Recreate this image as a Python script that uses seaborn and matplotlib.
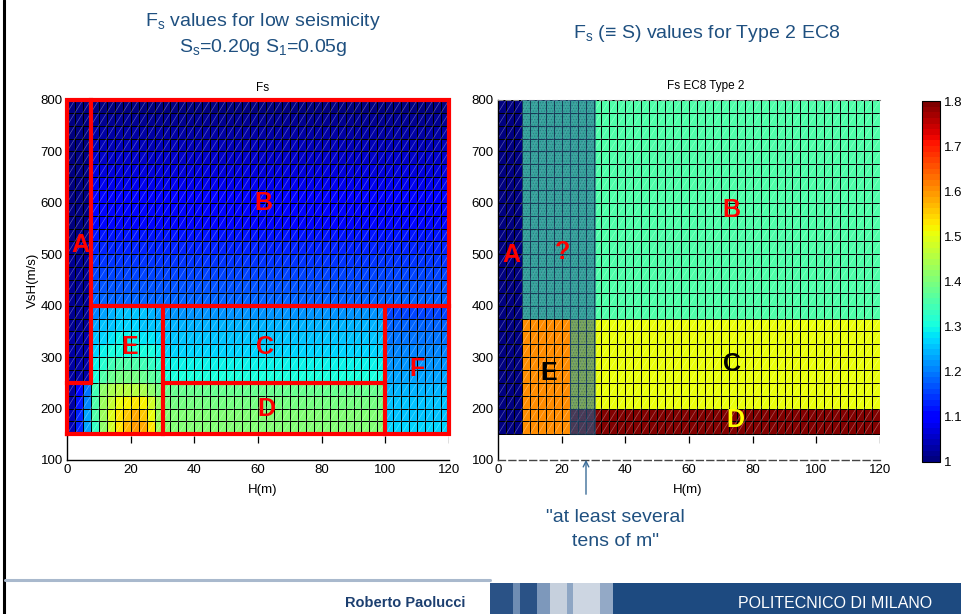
import numpy as np
import pandas as pd
import matplotlib
matplotlib.use("Agg")
import matplotlib.pyplot as plt
import seaborn as sns
from matplotlib.patches import Rectangle
from matplotlib.collections import LineCollection
from matplotlib.lines import Line2D

# ---------------- data ----------------
# cell grid: H (m) columns of 2.5 m from 0 to 120, VsH rows of 25 m/s from 150 to 800
H_cells = np.arange(0, 120, 2.5)
V_cells = np.arange(150, 800, 25)

# Left panel: Fs (low seismicity) read by zone, rows listed bottom -> top
fs_A = [1.03, 1.03, 1.03, 1.03, 1.02, 1.02, 1.02, 1.02, 1.02, 1.02, 1.02,
        1.01, 1.01, 1.01, 1.01, 1.01, 1.01, 1.00, 1.00, 1.00, 1.00, 1.00]      # H 0-7.5, Vs 250-800
fs_B = [1.18, 1.17, 1.16, 1.15, 1.13, 1.12, 1.11, 1.10, 1.09, 1.08, 1.07,
        1.06, 1.04, 1.03, 1.02, 1.01]                                          # H 7.5-120, Vs 400-800
fs_low_left = [[1.04, 1.13, 1.23],
               [1.04, 1.13, 1.23],
               [1.03, 1.12, 1.21],
               [1.03, 1.11, 1.19]]                                             # H 0-7.5, Vs 150-250
fs_E = [[1.33, 1.42, 1.48, 1.53, 1.57, 1.59, 1.58, 1.53, 1.43],
        [1.35, 1.43, 1.49, 1.53, 1.56, 1.58, 1.56, 1.50, 1.43],
        [1.35, 1.43, 1.47, 1.50, 1.52, 1.53, 1.52, 1.48, 1.43],
        [1.34, 1.42, 1.44, 1.46, 1.46, 1.46, 1.44, 1.42, 1.40],
        [1.30, 1.36, 1.38, 1.39, 1.39, 1.39, 1.38, 1.37, 1.36],
        [1.29, 1.32, 1.34, 1.35, 1.35, 1.35, 1.34, 1.33, 1.32],
        [1.27, 1.29, 1.30, 1.31, 1.31, 1.31, 1.30, 1.30, 1.29],
        [1.25, 1.27, 1.28, 1.29, 1.29, 1.29, 1.28, 1.28, 1.27],
        [1.23, 1.25, 1.26, 1.27, 1.27, 1.27, 1.26, 1.26, 1.25],
        [1.21, 1.23, 1.24, 1.25, 1.26, 1.26, 1.25, 1.24, 1.23]]                # H 7.5-30, Vs 150-400
fs_C = [1.30, 1.29, 1.27, 1.26, 1.24, 1.22]                                    # H 30-100, Vs 250-400
fs_D = [1.41, 1.41, 1.40, 1.38]                                                # H 30-100, Vs 150-250
fs_F = [1.27, 1.26, 1.25, 1.24, 1.23, 1.22, 1.21, 1.20, 1.18, 1.16]            # H 100-120, Vs 150-400

# Right panel: EC8 Type 2 soil factor S per class and its (H, Vs) domain
ec8_class = ["A", "E", "B", "C", "D"]
ec8_S = [1.00, 1.60, 1.35, 1.50, 1.80]
ec8_H_min = [0.0, 7.5, 7.5, 22.5, 22.5]
ec8_H_max = [7.5, 22.5, 120.0, 120.0, 120.0]
ec8_V_min = [150, 150, 375, 200, 150]
ec8_V_max = [800, 375, 800, 375, 200]

x_ticks = [0, 20, 40, 60, 80, 100, 120]
y_ticks = [100, 200, 300, 400, 500, 600, 700, 800]
cbar_ticks = [1.0, 1.1, 1.2, 1.3, 1.4, 1.5, 1.6, 1.7, 1.8]
cbar_labels = ["1", "1.1", "1.2", "1.3", "1.4", "1.5", "1.6", "1.7", "1.8"]


def hx(h):
    return np.asarray(h, dtype=float) / 2.5


def vy(v):
    return (np.asarray(v, dtype=float) - 150.0) / 25.0


# build left grid
fs = np.zeros((len(V_cells), len(H_cells)))
ci = lambda h: int(round(float(hx(h))))
ri = lambda v: int(round(float(vy(v))))
fs[ri(250):, ci(0):ci(7.5)] = np.array(fs_A)[:, None]
fs[ri(400):, ci(7.5):] = np.array(fs_B)[:, None]
fs[ri(150):ri(250), ci(0):ci(7.5)] = np.array(fs_low_left)
fs[ri(150):ri(400), ci(7.5):ci(30)] = np.array(fs_E)
fs[ri(250):ri(400), ci(30):ci(100)] = np.array(fs_C)[:, None]
fs[ri(150):ri(250), ci(30):ci(100)] = np.array(fs_D)[:, None]
fs[ri(150):ri(400), ci(100):] = np.array(fs_F)[:, None]

# build right grid
Hc = H_cells + 1.25
Vc = V_cells + 12.5
ec8 = np.zeros_like(fs)
for s, h0, h1, v0, v1 in zip(ec8_S, ec8_H_min, ec8_H_max, ec8_V_min, ec8_V_max):
    mask = ((Hc[None, :] > h0) & (Hc[None, :] < h1) & (Vc[:, None] > v0) & (Vc[:, None] < v1))
    ec8[mask] = s

df_left = pd.DataFrame(fs, index=V_cells, columns=H_cells)
df_right = pd.DataFrame(ec8, index=V_cells, columns=H_cells)

# ---------------- style ----------------
sns.set_theme(style="white")
plt.rcParams["font.family"] = ["Liberation Sans", "DejaVu Sans"]
plt.rcParams["mathtext.fontset"] = "custom"
plt.rcParams["mathtext.rm"] = "Liberation Sans"
plt.rcParams["mathtext.it"] = "Liberation Sans"
plt.rcParams["hatch.linewidth"] = 0.6

W, HH = 961, 614
fx = lambda p: p / W
fy = lambda p: 1 - p / HH

fig = plt.figure(figsize=(9.61, 6.14), dpi=100)
fig.patch.set_facecolor("white")
ax1 = fig.add_axes([fx(67), fy(460), fx(449) - fx(67), fy(100) - fy(460)])
ax2 = fig.add_axes([fx(498), fy(460), fx(880) - fx(498), fy(100) - fy(460)])
cax = fig.add_axes([fx(922), fy(462), fx(940) - fx(922), fy(101) - fy(462)])

cmap = matplotlib.colormaps["jet"].resampled(64)

sns.heatmap(df_left, ax=ax1, cmap=cmap, vmin=1.0, vmax=1.8, linewidths=0.6,
            linecolor="black", cbar=False, xticklabels=False, yticklabels=False)
sns.heatmap(df_right, ax=ax2, cmap=cmap, vmin=1.0, vmax=1.8, linewidths=0.6,
            linecolor="black", cbar=True, cbar_ax=cax, xticklabels=False, yticklabels=False)

diag = [[(i, j), (i + 1, j + 1)] for i in range(len(H_cells)) for j in range(len(V_cells))]

for ax in (ax1, ax2):
    ax.set_xlim(0, hx(120))
    ax.set_ylim(vy(100), vy(800))
    ax.set_xticks(hx(x_ticks))
    ax.set_xticklabels([str(t) for t in x_ticks])
    ax.set_yticks(vy(y_ticks))
    ax.set_yticklabels([str(t) for t in y_ticks])
    ax.tick_params(length=0, labelsize=9.5, pad=3, colors="black")
    ax.set_xlabel("")
    ax.set_ylabel("")
    ax.add_collection(LineCollection(diag, colors=[(1, 1, 1, 0.35)], linewidths=0.5))
    ax.vlines(hx(x_ticks[1:]), vy(133), vy(146), color="black", lw=0.9)
    for s in ax.spines.values():
        s.set_visible(False)
    ax.spines["left"].set_visible(True)
    ax.spines["bottom"].set_visible(True)
    ax.spines["left"].set_color("black")
    ax.spines["bottom"].set_color("black")
    ax.spines["left"].set_linewidth(1.0)
    ax.spines["bottom"].set_linewidth(1.0)

ax2.spines["bottom"].set_linestyle((0, (5, 2.5)))
ax2.spines["bottom"].set_color("#444444")
ax2.spines["top"].set_visible(True)
ax2.spines["top"].set_linestyle((0, (4, 3)))
ax2.spines["top"].set_color("#888888")
ax2.spines["top"].set_linewidth(0.8)

# left: red zone outlines
red_lines = [
    [(0, 150), (0, 800), (120, 800), (120, 150), (0, 150)],
    [(7.5, 800), (7.5, 250), (0, 250)],
    [(7.5, 400), (120, 400)],
    [(30, 400), (30, 150)],
    [(100, 400), (100, 150)],
    [(30, 250), (100, 250)],
]
for pl in red_lines:
    hs, vs = zip(*pl)
    ax1.plot(hx(hs), vy(vs), color="#ff0000", lw=3.0, solid_joinstyle="miter",
             solid_capstyle="projecting", clip_on=False, zorder=5)

left_labels = [("A", 4.1, 518), ("B", 61.7, 599), ("C", 62.2, 320), ("D", 62.7, 200),
               ("E", 19.8, 320), ("F", 109.9, 276)]
for t, h, v in left_labels:
    ax1.text(hx(h), vy(v), t, color="#ff0000", fontsize=18, fontweight="bold",
             ha="center", va="center", zorder=6)

# right: shaded "uncertain" band
shade = (40 / 255, 100 / 255, 150 / 255, 0.58)
for (h0, h1, v0, v1) in [(7.5, 22.5, 375, 800), (22.5, 30.5, 150, 800)]:
    ax2.add_patch(Rectangle((hx(h0), vy(v0)), hx(h1) - hx(h0), vy(v1) - vy(v0),
                            facecolor=shade, edgecolor="none", zorder=4))
    ax2.add_patch(Rectangle((hx(h0), vy(v0)), hx(h1) - hx(h0), vy(v1) - vy(v0),
                            facecolor="none", edgecolor=(0.1, 0.25, 0.35, 0.35), lw=0,
                            hatch="......", zorder=4))
ax2.add_patch(Rectangle((hx(22.5), vy(150)), hx(30.5) - hx(22.5), vy(800) - vy(150),
                        facecolor="none", edgecolor=(0.12, 0.3, 0.45, 0.6), lw=0.8, zorder=4))

right_labels = [("A", 4.1, 498, "#ff0000"), ("?", 20.4, 504, "#ff0000"), ("B", 73.3, 586, "#ff0000"),
                ("E", 15.8, 269, "black"), ("C", 73.6, 287, "black"), ("D", 74.7, 177, "#ffff00")]
for t, h, v, c in right_labels:
    ax2.text(hx(h), vy(v), t, color=c, fontsize=18, fontweight="bold",
             ha="center", va="center", zorder=6)

# colorbar
cb = ax2.collections[0].colorbar
cb.set_ticks(cbar_ticks)
cb.set_ticklabels(cbar_labels)
cb.outline.set_visible(True)
cb.outline.set_edgecolor("black")
cb.outline.set_linewidth(0.8)
cax.tick_params(direction="in", length=4, width=0.7, labelsize=9.5, left=True, right=True,
                colors="black", pad=3)

# texts
title_col = "#1f5080"
fig.text(fx(263), fy(22), r"F$\mathregular{_s}$ values for low seismicity", ha="center", va="center",
         fontsize=14, color=title_col)
fig.text(fx(263), fy(47), r"S$\mathregular{_s}$=0.20g S$\mathregular{_1}$=0.05g", ha="center",
         va="center", fontsize=14, color=title_col)
fig.text(fx(707), fy(34), "F$\\mathregular{_s}$ (\u2261 S) values for Type 2 EC8", ha="center",
         va="center", fontsize=14, color=title_col)
fig.text(fx(263), fy(88), "Fs", ha="center", va="center", fontsize=8.5, color="black")
fig.text(fx(706), fy(86), "Fs EC8 Type 2", ha="center", va="center", fontsize=8.5, color="black")
fig.text(fx(263), fy(490), "H(m)", ha="center", va="center", fontsize=9.5, color="black")
fig.text(fx(688), fy(490), "H(m)", ha="center", va="center", fontsize=9.5, color="black")
fig.text(fx(33), fy(280), "VsH(m/s)", ha="center", va="center", rotation=90, fontsize=9.5,
         color="black")

fig.text(fx(615), fy(518), '"at least several', ha="center", va="center", fontsize=14, color=title_col)
fig.text(fx(615), fy(541), 'tens of m"', ha="center", va="center", fontsize=14, color=title_col)
ax2.annotate("", xy=(586, HH - 457), xytext=(586, HH - 497), xycoords="figure pixels",
             textcoords="figure pixels",
             arrowprops=dict(arrowstyle="->", color="#3d6d98", lw=1.0, mutation_scale=10))

# footer / slide frame
fig.add_artist(Line2D([fx(4), fx(4)], [0, 1], color="black", lw=2.2))
fig.add_artist(Line2D([fx(5), fx(490)], [fy(580), fy(580)], color="#a9b9cd", lw=2.2))
stripes = [(490, 513, "#2a5286"), (513, 520, "#6f8db3"), (520, 537, "#2a5286"),
           (537, 550, "#7d98bb"), (550, 567, "#c6d0dd"), (567, 573, "#8ea6c4"),
           (573, 600, "#cdd6e2"), (600, 613, "#93a9c6"), (613, 961, "#1d4a80")]
for x0, x1, c in stripes:
    fig.add_artist(Rectangle((fx(x0), 0), fx(x1) - fx(x0), fy(583), transform=fig.transFigure,
                             facecolor=c, edgecolor="none"))
fig.text(fx(405), fy(603), "Roberto Paolucci", ha="center", va="center", fontsize=10.5,
         fontweight="bold", color="#1c3f70", family=["Liberation Sans Narrow", "Liberation Sans"])
fig.text(fx(835), fy(603), "POLITECNICO DI MILANO", ha="center", va="center", fontsize=11.5,
         color="white", family=["Liberation Sans Narrow", "Liberation Sans"])

fig.savefig("out.png", dpi=100, facecolor="white")
